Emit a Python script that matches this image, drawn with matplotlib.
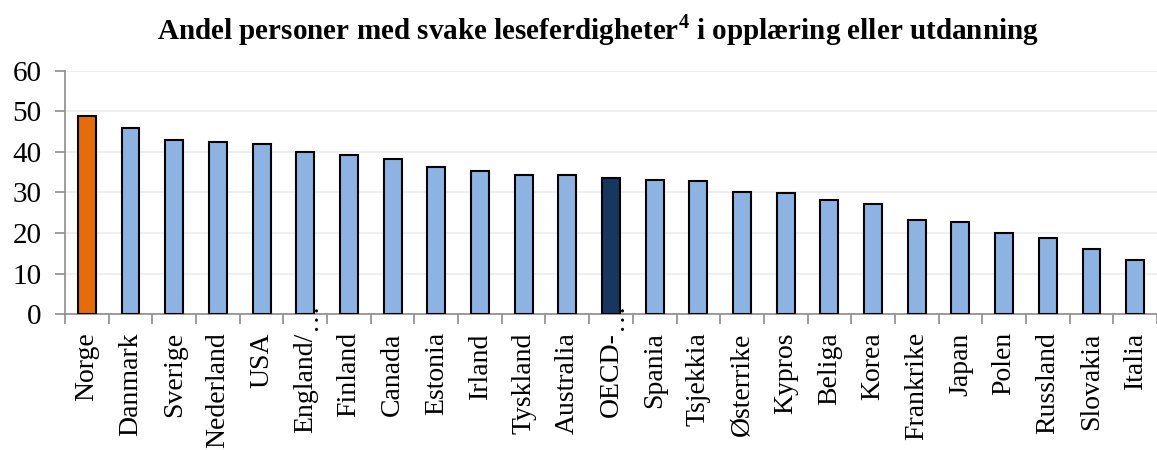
import matplotlib.pyplot as plt
import matplotlib.transforms as mtransforms
import numpy as np

countries = ["Norge", "Danmark", "Sverige", "Nederland", "USA", "England/…",
             "Finland", "Canada", "Estonia", "Irland", "Tyskland", "Australia",
             "OECD-…", "Spania", "Tsjekkia", "Østerrike", "Kypros", "Beliga",
             "Korea", "Frankrike", "Japan", "Polen", "Russland", "Slovakia", "Italia"]
values = [48.9, 45.8, 42.8, 42.4, 41.9, 40.0, 39.1, 38.3, 36.2, 35.3, 34.4, 34.4,
          33.5, 33.0, 32.8, 30.0, 29.9, 28.1, 27.2, 23.3, 22.7, 20.1, 18.8, 16.1, 13.4]

plt.rcParams["font.family"] = ["Liberation Serif", "DejaVu Serif"]
plt.rcParams["mathtext.fontset"] = "custom"
plt.rcParams["mathtext.rm"] = "Liberation Serif"
plt.rcParams["mathtext.bf"] = "Liberation Serif:bold"

colors = []
for c in countries:
    if c == "Norge":
        colors.append("#E46C0A")
    elif c.startswith("OECD"):
        colors.append("#17375E")
    else:
        colors.append("#8DB3E2")

fig = plt.figure(figsize=(11.57, 4.5), dpi=100)
ax = fig.add_axes([0.0562, 0.302, 0.9438, 0.541])

x = np.arange(len(countries))
ax.bar(x, values, width=0.41, color=colors, edgecolor="black", linewidth=1.5, zorder=3)

ax.set_ylim(0, 60)
ax.set_xlim(-0.5, len(countries) - 0.5)
ax.set_yticks(range(0, 61, 10))
ax.grid(axis="y", color="#ececec", linewidth=1.2, zorder=0)

# truncated labels: the ellipsis sits above the label start, like the original
shown = [c.rstrip("…") for c in countries]
ax.set_xticks(x)
ax.set_xticklabels(shown, rotation=90, ha="center", va="top", fontsize=20)
ax.set_xticks(np.arange(-0.5, len(countries), 1.0), minor=True)
ax.tick_params(axis="x", which="major", length=0, pad=13)
ax.tick_params(axis="x", which="minor", length=7, width=1.2, color="#8c8c8c")
ax.tick_params(axis="y", length=7, width=1.2, color="#8c8c8c", labelsize=21, pad=10)

trans = mtransforms.blended_transform_factory(ax.transData, ax.transAxes)
for i, c in enumerate(countries):
    if c.endswith("…"):
        ax.text(i + 0.1, -0.007, "…", rotation=90, ha="center", va="center",
                fontsize=20, transform=trans, clip_on=False, zorder=5)

for side in ["top", "right"]:
    ax.spines[side].set_visible(False)
for side in ["left", "bottom"]:
    ax.spines[side].set_color("#8c8c8c")
    ax.spines[side].set_linewidth(1.2)

fig.text(0.517, 0.933, r"Andel personer med svake leseferdigheter$^{\mathbf{4}}$ i opplæring eller utdanning",
         ha="center", va="center", fontsize=21, fontweight="bold")

fig.savefig("out.png", dpi=100)
